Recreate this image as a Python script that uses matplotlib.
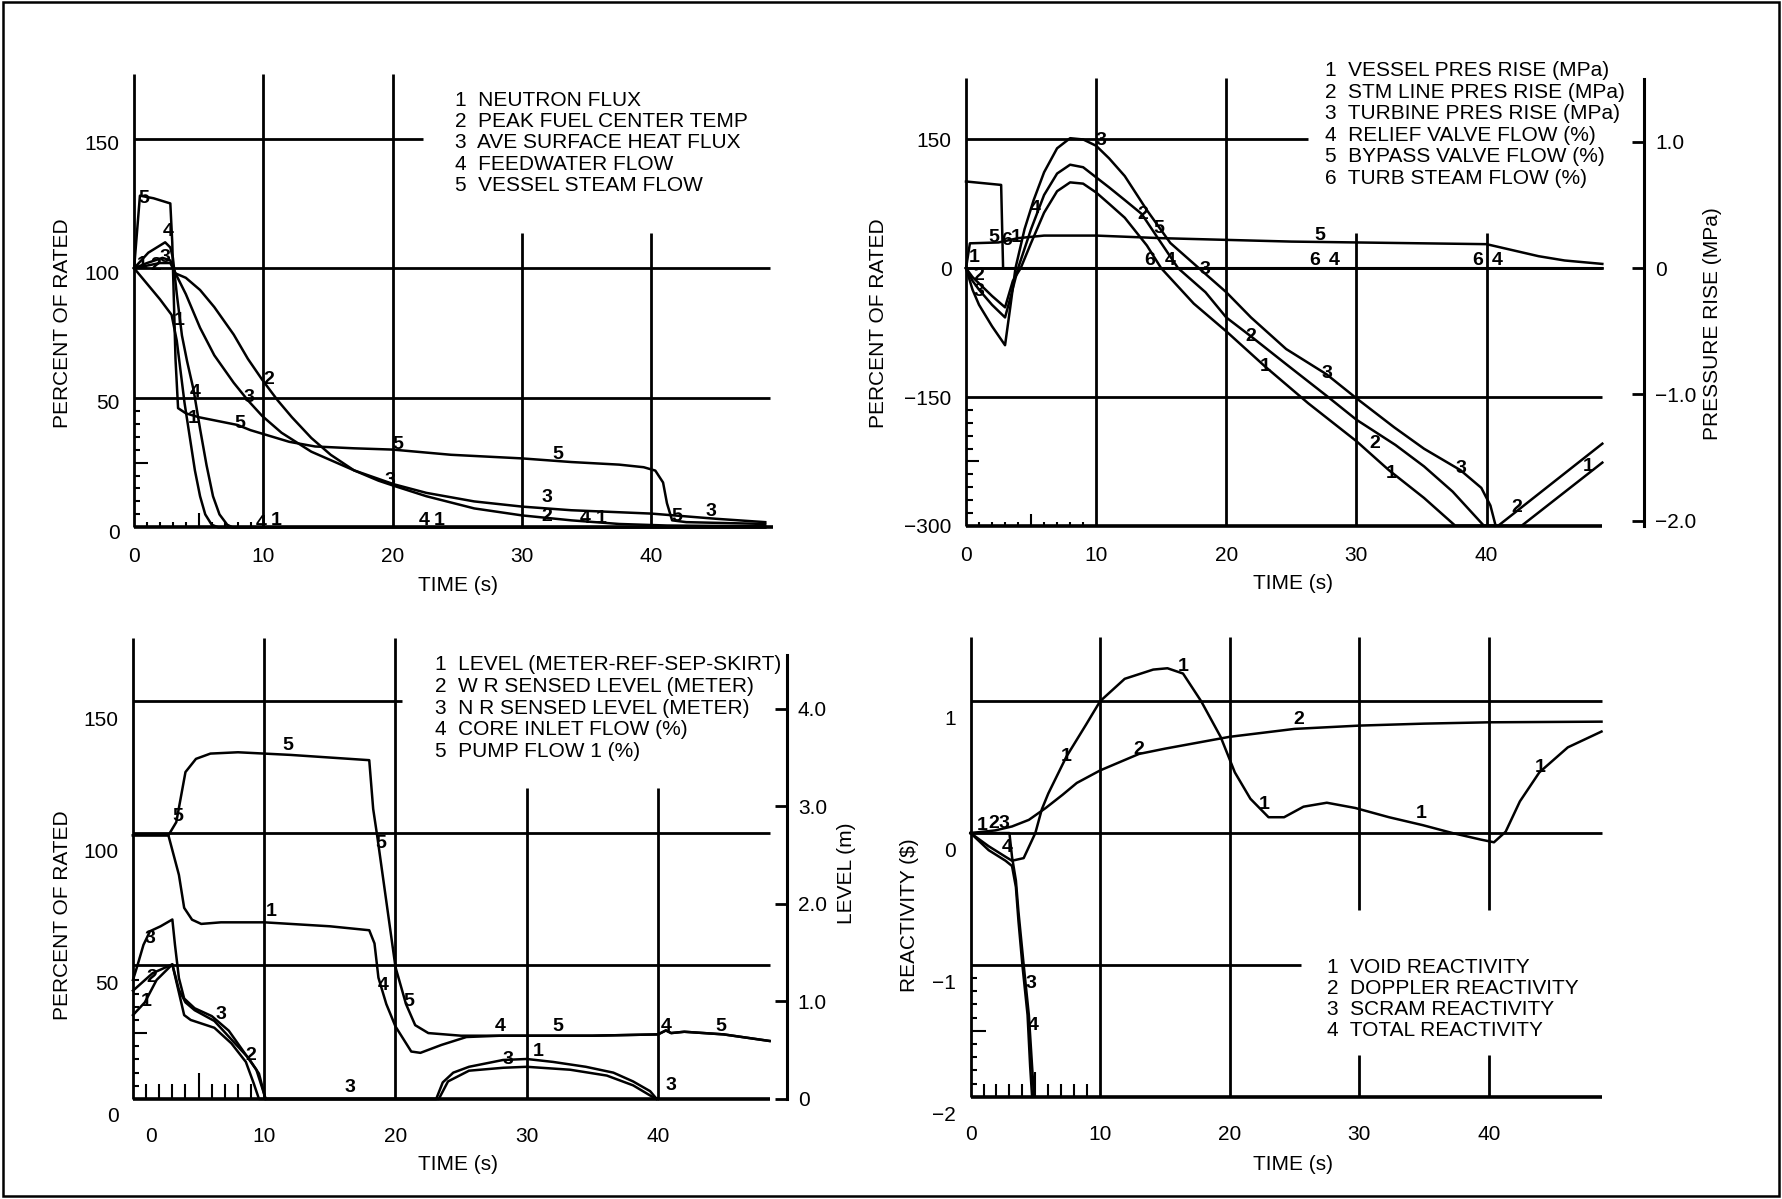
import numpy as np
import matplotlib
matplotlib.use("Agg")
import matplotlib.pyplot as plt
import matplotlib.transforms as mtransforms
from matplotlib.patches import Rectangle

plt.rcParams['font.family'] = ['Liberation Sans', 'DejaVu Sans']

# ------------------------------------------------------------------
# Panel 1: percent of rated
# ------------------------------------------------------------------
flux_t = [0, 1, 2, 2.9, 3.3, 3.6, 3.9, 4.3, 4.7, 5.1, 5.5, 6.0, 6.5, 48.8]
flux = [100, 94, 88, 82, 72, 60, 48, 35, 22, 12, 5, 1, 0, 0]

fuel_t = [0, 1, 2, 2.8, 3.2, 4.0, 5.1, 6.2, 7.7, 8.8, 9.9, 11.1, 12.2, 13.7, 15.2,
          17.0, 18.9, 20.1, 22.6, 26.3, 30, 33.8, 37.5, 41.2, 48.8]
fuel = [100, 101, 102, 102, 98, 96.3, 91.6, 85, 74.4, 65, 57, 49, 42.5, 34.5, 28,
        22, 18, 16, 12, 7.3, 4.6, 2.7, 1.3, 0.7, 0.4]

heat_t = [0, 1, 2.2, 2.8, 3.2, 4.0, 5.1, 6.2, 7.7, 8.8, 9.9, 11.4, 13.7, 17.0, 20.1,
          22.6, 26.3, 30, 33.8, 40, 45, 48.8]
heat = [100, 102, 104, 103, 98, 90, 77, 66.4, 55.8, 49, 43, 36.5, 29.2, 22, 16.6,
        13.3, 10, 8, 6.6, 5.3, 3.3, 2]

fw_t = [0, 1.1, 2.4, 2.8, 3.0, 3.3, 3.7, 4.1, 4.6, 5.1, 5.6, 6.1, 6.6, 7.2, 7.6, 48.8]
fw = [100, 106, 110, 108, 104, 90, 74, 64, 53, 38, 24, 12, 5, 1, 0, 0]

vsteam_t = [0, 0.45, 1.5, 2.8, 2.95, 3.2, 3.4, 4, 5, 6, 7, 8, 9, 10, 12, 14, 17, 20,
            24.5, 30, 33.8, 37.5, 39.4, 40.3, 40.9, 41.2, 41.6, 42.7, 48.8]
vsteam = [100, 128, 127, 125, 110, 65, 46, 44, 42.5, 41.5, 40.5, 39.5, 37.5, 36, 33,
          31.2, 30.5, 30, 28, 26.6, 25.2, 24.2, 23.2, 21.9, 17.3, 9.3, 2.7, 2, 1.3]

# ------------------------------------------------------------------
# Panel 2: pressures (MPa, right axis) and flows (%, left axis)
# ------------------------------------------------------------------
ves_t = [0, 0.5, 1, 2, 3, 3.6, 4.2, 5, 6, 7, 8, 9, 10, 11, 12.2, 13.9, 15, 17.5, 20,
         23, 26.3, 30, 32.5, 35.2, 37.6, 42.7, 48.9]
ves_p = [0, -0.07, -0.12, -0.22, -0.31, -0.10, 0, 0.20, 0.44, 0.61, 0.68, 0.67, 0.60,
         0.51, 0.40, 0.18, 0, -0.28, -0.50, -0.78, -1.07, -1.37, -1.60, -1.82, -2.04,
         -2.04, -1.54]

stm_t = [0, 0.5, 1, 2, 3, 3.5, 4, 5, 6, 7, 8, 9, 10, 11, 12.2, 13.5, 14.8, 16.3, 18.4,
         20, 21.9, 24.6, 27.7, 30, 33, 35.2, 37.4, 39.8, 40.9, 48.9]
stm_p = [0, -0.10, -0.17, -0.29, -0.39, -0.20, 0, 0.31, 0.58, 0.75, 0.82, 0.80, 0.72,
         0.64, 0.54, 0.43, 0.23, 0, -0.19, -0.39, -0.54, -0.76, -1.01, -1.20, -1.40,
         -1.57, -1.77, -2.04, -2.04, -1.39]

turb_t = [0, 0.5, 1, 2, 3, 3.4, 3.8, 4.5, 5.2, 6, 7, 8, 9, 10, 11, 12.2, 13.9, 15.7,
          17.9, 20, 21.9, 24.6, 27.7, 30, 32.9, 35.2, 38, 39.6, 40.3, 40.7]
turb_p = [0, -0.17, -0.29, -0.46, -0.61, -0.31, 0, 0.31, 0.54, 0.76, 0.95, 1.03, 1.02,
          0.97, 0.87, 0.73, 0.46, 0.20, 0, -0.19, -0.39, -0.64, -0.84, -1.03, -1.26,
          -1.43, -1.60, -1.74, -1.88, -2.04]

relief_t = [0, 48.9]
relief = [0, 0]

bypass_t = [0, 0.3, 2.5, 4, 6, 10, 15, 20, 25, 30, 35, 40, 42, 44, 46, 48.9]
bypass = [0, 29, 30, 35, 38, 38, 35, 33, 31, 30, 29, 28, 21, 14, 9, 5]

tsteam_t = [0, 2.7, 2.85, 48.9]
tsteam = [101, 97, 0, 0]

# ------------------------------------------------------------------
# Panel 3: levels (m, right axis) and flows (%, left axis)
# ------------------------------------------------------------------
lev_t = [0, 0.9, 1.8, 3, 3.9, 4.4, 6.2, 7.5, 8.6, 9.2, 9.6, 23.1, 23.6, 24.4, 25.6,
         28.2, 30, 32, 34.5, 36.6, 38.1, 39.4, 39.9]
lev = [0.86, 0.99, 1.22, 1.38, 0.86, 0.81, 0.73, 0.57, 0.38, 0.16, 0, 0, 0.17, 0.27,
       0.33, 0.40, 0.41, 0.38, 0.33, 0.27, 0.18, 0.08, 0]

wr_t = [0, 1.5, 3, 3.5, 4, 4.7, 6.2, 7.5, 8.8, 9.6, 10.1]
wr = [1.11, 1.29, 1.38, 1.12, 0.99, 0.91, 0.80, 0.61, 0.42, 0.26, 0]

nr_t = [0, 0.3, 0.8, 1.3, 2.1, 3, 3.2, 3.5, 3.9, 4.7, 6, 7.3, 8.3, 9.4, 9.9, 10.1,
        23.3, 24, 25.6, 28.2, 30, 33.3, 36.1, 38.1, 39.6, 40]
nr = [1.22, 1.35, 1.58, 1.72, 1.77, 1.84, 1.58, 1.24, 1.03, 0.93, 0.85, 0.70, 0.51,
      0.30, 0.09, 0, 0, 0.18, 0.29, 0.32, 0.33, 0.30, 0.24, 0.14, 0.02, 0]

core_t = [0, 2.7, 3.5, 3.9, 4.5, 5.2, 6.7, 10, 15, 18, 18.4, 18.7, 19.3, 20, 21.2,
          21.9, 23.5, 25.4, 28, 35, 40, 40.6, 41, 42, 45, 48.5]
core = [100, 100, 85, 72.5, 68, 66.4, 67, 67, 65.5, 64, 59, 46, 36, 27.5, 18, 17.5,
        20.5, 23.5, 24, 24, 24.5, 26, 25, 25.5, 24.5, 22]

pump_t = [0, 2.7, 3.3, 4, 4.8, 5.9, 8, 12, 15, 18, 18.3, 18.6, 19.3, 20, 20.8, 21.5,
          22.5, 25, 30, 35, 40, 40.6, 41, 42, 45, 48.5]
pump = [100, 100, 105, 124, 129, 131, 131.5, 130.5, 129.5, 128.5, 110, 100, 75, 50,
        36, 28, 25, 24, 24, 24, 24.5, 26, 25, 25.5, 24.5, 22]

# ------------------------------------------------------------------
# Panel 4: reactivity ($)
# ------------------------------------------------------------------
void_t = [0, 1.4, 2.7, 3.2, 4.1, 5.0, 5.5, 6.0, 6.6, 7.4, 8.9, 10, 11.9, 14.1, 15.2,
          16.4, 17.8, 19.3, 20.4, 21.6, 23, 24.2, 25.7, 27.5, 29.7, 32.3, 34.9, 37.2,
          39.4, 40.4, 41.3, 42.4, 43.9, 46.1, 48.7]
void = [0, -0.1, -0.18, -0.21, -0.19, 0, 0.18, 0.3, 0.42, 0.58, 0.82, 1.0, 1.17, 1.24,
        1.25, 1.21, 1.0, 0.73, 0.46, 0.26, 0.12, 0.12, 0.2, 0.23, 0.19, 0.12, 0.06, 0,
        -0.05, -0.07, 0.01, 0.24, 0.46, 0.65, 0.77]

dop_t = [0, 1.9, 3.2, 4.5, 5.8, 7.1, 8.2, 10, 13, 15, 20, 25, 30, 35, 40, 48.7]
dop = [0, 0.02, 0.05, 0.1, 0.19, 0.29, 0.38, 0.475, 0.6, 0.64, 0.73, 0.79, 0.815,
       0.83, 0.84, 0.845]

scram_t = [0, 3.0, 3.2, 3.5, 3.7, 4.1, 4.5, 4.75, 4.9]
scram = [0, 0, -0.18, -0.36, -0.6, -1.0, -1.38, -1.77, -2.0]

total_t = [0, 1.4, 2.7, 3.2, 3.5, 3.7, 4.0, 4.4, 4.6, 4.75]
total = [0, -0.13, -0.21, -0.25, -0.41, -0.67, -1.0, -1.38, -1.77, -2.0]

# curve number tags (text, time, value)
tags1 = [('5', 0.75, 127), ('4', 2.6, 114), ('3', 2.4, 104), ('2', 1.7, 101),
         ('1', 0.6, 101.5), ('1', 3.5, 80), ('4', 4.7, 52), ('1', 4.6, 42),
         ('5', 8.2, 40), ('3', 8.9, 50), ('2', 10.4, 57), ('5', 20.4, 32),
         ('3', 19.8, 18), ('5', 32.8, 28), ('3', 31.9, 11.5), ('2', 31.9, 4),
         ('4', 34.9, 3.5), ('1', 36.1, 3.5), ('4', 9.8, 1.5), ('1', 11, 2.5),
         ('4', 22.4, 2.7), ('1', 23.6, 2.7), ('5', 42, 4), ('3', 44.6, 6)]
tags2 = [('3', 10.4, 149), ('2', 13.6, 63), ('5', 14.8, 46), ('5', 27.2, 38),
         ('6', 14.1, 9), ('4', 15.7, 9), ('3', 18.4, -2), ('6', 26.8, 9),
         ('4', 28.3, 9), ('6', 39.3, 9), ('4', 40.8, 9), ('2', 21.9, -80),
         ('1', 23, -115), ('3', 27.7, -123), ('2', 31.4, -204), ('1', 32.7, -239),
         ('3', 38, -233), ('2', 42.3, -279), ('1', 47.8, -231), ('5', 2.1, 36),
         ('6', 3.1, 32), ('1', 3.85, 36), ('4', 5.3, 70), ('1', 0.6, 13),
         ('2', 0.95, -8), ('3', 1.0, -27)]
tags3 = [('5', 11.8, 134), ('5', 3.4, 107), ('5', 18.9, 97), ('1', 10.5, 71),
         ('3', 1.3, 61), ('2', 1.4, 46), ('1', 1.0, 37), ('3', 6.7, 32),
         ('2', 9.0, 16.5), ('4', 19.1, 43), ('5', 21.0, 37), ('4', 28.0, 27.5),
         ('5', 32.4, 27.5), ('4', 40.6, 27.5), ('5', 44.8, 27.5), ('3', 28.6, 15),
         ('1', 30.9, 18), ('3', 16.5, 4.5), ('3', 41.0, 5)]
tags4 = [('1', 16.4, 1.26), ('2', 25.3, 0.86), ('2', 13.0, 0.63), ('1', 7.4, 0.58),
         ('1', 22.7, 0.22), ('1', 34.8, 0.15), ('1', 44.0, 0.5), ('1', 0.9, 0.06),
         ('2', 1.8, 0.07), ('3', 2.6, 0.07), ('4', 2.8, -0.11), ('3', 4.65, -1.14),
         ('4', 4.8, -1.46)]

legend1 = ['1  NEUTRON FLUX', '2  PEAK FUEL CENTER TEMP', '3  AVE SURFACE HEAT FLUX',
           '4  FEEDWATER FLOW', '5  VESSEL STEAM FLOW']
legend2 = ['1  VESSEL PRES RISE (MPa)', '2  STM LINE PRES RISE (MPa)',
           '3  TURBINE PRES RISE (MPa)', '4  RELIEF VALVE FLOW (%)',
           '5  BYPASS VALVE FLOW (%)', '6  TURB STEAM FLOW (%)']
legend3 = ['1  LEVEL (METER-REF-SEP-SKIRT)', '2  W R SENSED LEVEL (METER)',
           '3  N R SENSED LEVEL (METER)', '4  CORE INLET FLOW (%)', '5  PUMP FLOW 1 (%)']
legend4 = ['1  VOID REACTIVITY', '2  DOPPLER REACTIVITY', '3  SCRAM REACTIVITY',
           '4  TOTAL REACTIVITY']

time_ticks = [0, 10, 20, 30, 40]

# ------------------------------------------------------------------
# layout helpers (layout units = reference pixels at 1568 x 1055)
# ------------------------------------------------------------------
W, H = 1568.0, 1055.0
FS = 15
LWC = 1.8
LWG = 2.0

fig = plt.figure(figsize=(17.82, 11.99), dpi=100)
fig.patch.set_facecolor('white')


def make_axes(x0, sx, y0, sy, xlim, ylim):
    left = x0 + xlim[0] * sx
    right = x0 + xlim[1] * sx
    top = y0 - ylim[1] * sy
    bottom = y0 - ylim[0] * sy
    ax = fig.add_axes([left / W, 1 - bottom / H, (right - left) / W, (bottom - top) / H])
    ax.set_xlim(xlim)
    ax.set_ylim(ylim)
    for s in ax.spines.values():
        s.set_visible(False)
    ax.patch.set_visible(False)
    return ax


def seg(ax, xs, ys, lw=LWG):
    ax.plot(xs, ys, color='k', lw=lw, solid_capstyle='butt', clip_on=False)


def ticks(ax, ylocs, ylabels, xpad, ypad, ydrop=0.0):
    ax.tick_params(axis='both', length=0, labelsize=FS)
    ax.tick_params(axis='x', pad=xpad)
    ax.tick_params(axis='y', pad=ypad)
    ax.set_xticks(time_ticks)
    ax.set_xticklabels([str(t) for t in time_ticks])
    ax.set_yticks(ylocs)
    ax.set_yticklabels(ylabels)
    if ydrop:
        off = mtransforms.ScaledTranslation(0, -ydrop / 72, fig.dpi_scale_trans)
        for lab in ax.get_yticklabels():
            lab.set_transform(lab.get_transform() + off)


def labels(ax, xl, yl, xpos, ypos):
    ax.set_xlabel(xl, fontsize=FS)
    ax.xaxis.set_label_coords(xpos[0] / W, 1 - xpos[1] / H, transform=fig.transFigure)
    ax.xaxis.label.set_va('center')
    ax.set_ylabel(yl, fontsize=FS)
    ax.yaxis.set_label_coords(ypos[0] / W, 1 - ypos[1] / H, transform=fig.transFigure)
    ax.yaxis.label.set_va('center')


def tags(ax, items):
    for s, t, v in items:
        ax.text(t, v, s, fontsize=14, fontweight='bold', ha='center', va='center')


def legend(lines, x, y0, dy):
    for i, s in enumerate(lines):
        fig.text(x / W, 1 - (y0 + i * dy) / H, s, fontsize=FS, ha='left', va='center')


def curve(ax, t, v):
    ax.plot(t, v, color='k', lw=LWC)


# ------------------------------------------------------------------
# 1. top left
# ------------------------------------------------------------------
ax1 = make_axes(118, 11.38, 464, 2.28, (-1, 51.5), (-5, 175))
for t in (0, 10, 20):
    seg(ax1, [t, t], [0, 175])
for t in (30, 40):
    seg(ax1, [t, t], [0, 113.6])
seg(ax1, [0, 22.3], [150, 150])
for y in (100, 50):
    seg(ax1, [0, 49.2], [y, y])
seg(ax1, [0, 49.4], [0, 0], lw=2.6)
ax1.vlines([1, 2, 3, 4, 6, 7, 8, 9], 0, 2.2, color='k', lw=1.5)
ax1.vlines(5, 0, 5.5, color='k', lw=1.5)
ax1.hlines([5, 10, 15, 20, 30, 35, 40, 45], 0, 0.45, color='k', lw=1.5)
ax1.hlines(25, 0, 1.1, color='k', lw=1.5)
for t, v in ((flux_t, flux), (fuel_t, fuel), (heat_t, heat), (fw_t, fw), (vsteam_t, vsteam)):
    curve(ax1, t, v)
tags(ax1, tags1)
ticks(ax1, [0, 50, 100, 150], ['0', '50', '100', '150'], 5, 1, 3)
labels(ax1, 'TIME (s)', 'PERCENT OF RATED', (403, 515), (55, 284))
legend(legend1, 400, 88, 18.8)

# ------------------------------------------------------------------
# 2. top right
# ------------------------------------------------------------------
MPA = 147.0
ax2 = make_axes(850, 11.45, 236, 0.7556, (-1, 53), (-315, 222))
for t in (0, 10, 20):
    seg(ax2, [t, t], [-300, 222])
for t in (30, 40):
    seg(ax2, [t, t], [-300, 41])
seg(ax2, [0, 26.3], [150, 150])
for y in (0, -150):
    seg(ax2, [0, 48.9], [y, y])
seg(ax2, [0, 48.9], [-300, -300], lw=2.6)
ax2.vlines([1, 2, 3, 4, 6, 7, 8, 9], -300, -295, color='k', lw=1.5)
ax2.vlines(5, -300, -286, color='k', lw=1.5)
ax2.hlines([-165, -180, -195, -210, -240, -255, -270, -285], 0, 0.5, color='k', lw=1.5)
ax2.hlines(-225, 0, 1.0, color='k', lw=1.5)
for t, v in ((relief_t, relief), (bypass_t, bypass), (tsteam_t, tsteam)):
    curve(ax2, t, v)
tags(ax2, tags2)
ticks(ax2, [150, 0, -150, -300], ['150', '0', '\u2212150', '\u2212300'], 5, 1)
labels(ax2, 'TIME (s)', 'PERCENT OF RATED', (1138, 513), (773, 284))

ax2r = ax2.twinx()
ax2r.set_ylim(-315 / MPA, 222 / MPA)
for s in ax2r.spines.values():
    s.set_visible(False)
ax2r.spines['right'].set_visible(True)
ax2r.spines['right'].set_position(('data', 52.1))
ax2r.spines['right'].set_bounds(-300 / MPA, 220 / MPA)
ax2r.spines['right'].set_linewidth(2.2)
for t, v in ((ves_t, ves_p), (stm_t, stm_p), (turb_t, turb_p)):
    curve(ax2r, t, v)
ax2r.set_yticks([1, 0, -1, -2])
ax2r.set_yticklabels(['1.0', '0', '\u22121.0', '\u22122.0'])
ax2r.tick_params(axis='y', direction='in', length=9, width=2, pad=8, labelsize=FS)
ax2r.set_ylabel('PRESSURE RISE (MPa)', fontsize=FS, rotation=90)
ax2r.yaxis.set_label_coords(1507 / W, 1 - 285 / H, transform=fig.transFigure)
ax2r.yaxis.label.set_va('center')
legend(legend2, 1166, 62, 19)

# ------------------------------------------------------------------
# 3. bottom left
# ------------------------------------------------------------------
LVL = 37.0
ax3 = make_axes(117, 11.55, 967, 2.32, (-1, 51.5), (-6, 175))
for t in (0, 10, 20):
    seg(ax3, [t, t], [0, 175])
for t in (30, 40):
    seg(ax3, [t, t], [0, 118])
seg(ax3, [0, 20.5], [151, 151])
for y in (101, 51):
    seg(ax3, [0, 48.5], [y, y])
seg(ax3, [0, 48.5], [0, 0], lw=2.6)
ax3.vlines([1, 2, 3, 4, 6, 7, 8, 9], 0, 5.5, color='k', lw=1.5)
ax3.vlines(5, 0, 10, color='k', lw=1.5)
ax3.hlines([5, 10, 15, 20, 30, 35, 40, 45], 0, 0.45, color='k', lw=1.5)
ax3.hlines(25, 0, 1.1, color='k', lw=1.5)
for t, v in ((core_t, core), (pump_t, pump)):
    curve(ax3, t, v)
tags(ax3, tags3)
ticks(ax3, [0, 50, 100, 150], ['0', '50', '100', '150'], 9, 1, 11)
zero_lab = ax3.get_xticklabels()[0]
zero_lab.set_transform(zero_lab.get_transform() +
                       mtransforms.ScaledTranslation(13 / 72, 0, fig.dpi_scale_trans))
labels(ax3, 'TIME (s)', 'PERCENT OF RATED', (403, 1025), (55, 805))

ax3r = ax3.twinx()
ax3r.set_ylim(-6 / LVL, 175 / LVL)
for s in ax3r.spines.values():
    s.set_visible(False)
ax3r.spines['right'].set_visible(True)
ax3r.spines['right'].set_position(('data', 49.8))
ax3r.spines['right'].set_bounds(0, 4.55)
ax3r.spines['right'].set_linewidth(2.2)
for t, v in ((lev_t, lev), (wr_t, wr), (nr_t, nr)):
    curve(ax3r, t, v)
ax3r.set_yticks([0, 1, 2, 3, 4])
ax3r.set_yticklabels(['0', '1.0', '2.0', '3.0', '4.0'])
ax3r.tick_params(axis='y', direction='in', length=9, width=2, pad=8, labelsize=FS)
ax3r.set_ylabel('LEVEL (m)', fontsize=FS, rotation=90)
ax3r.yaxis.set_label_coords(745 / W, 1 - 768 / H, transform=fig.transFigure)
ax3r.yaxis.label.set_va('center')
legend(legend3, 383, 585, 19)

# ------------------------------------------------------------------
# 4. bottom right
# ------------------------------------------------------------------
ax4 = make_axes(854, 11.4, 733, 116, (-1, 51.5), (-2.1, 1.49))
for t in (0, 10, 20):
    seg(ax4, [t, t], [-2, 1.49])
for t in (30, 40):
    seg(ax4, [t, t], [-0.58, 1.49])
    seg(ax4, [t, t], [-2, -1.68])
for y in (1, 0):
    seg(ax4, [0, 48.7], [y, y])
seg(ax4, [0, 25.5], [-1, -1])
seg(ax4, [0, 48.7], [-2, -2], lw=2.6)
ax4.vlines([1, 2, 3, 4, 6, 7, 8, 9], -2, -1.9, color='k', lw=1.5)
ax4.vlines(5, -2, -1.81, color='k', lw=1.5)
ax4.hlines([-1.1, -1.2, -1.3, -1.4, -1.6, -1.7, -1.8, -1.9], 0, 0.5, color='k', lw=1.5)
ax4.hlines(-1.5, 0, 1.2, color='k', lw=1.5)
for t, v in ((void_t, void), (dop_t, dop), (scram_t, scram), (total_t, total)):
    curve(ax4, t, v)
tags(ax4, tags4)
ticks(ax4, [1, 0, -1, -2], ['1', '0', '\u22121', '\u22122'], 11, 1, 12)
labels(ax4, 'TIME (s)', r'REACTIVITY (\$)', (1138, 1025), (800, 805))
legend(legend4, 1168, 851, 18.7)

# outer frame
fig.add_artist(Rectangle((3 / W, 1 - 1052 / H), 1562 / W, 1050 / H,
                         transform=fig.transFigure, fill=False, lw=1.8, ec='k'))

fig.savefig('out.png', dpi=100, facecolor='white')
